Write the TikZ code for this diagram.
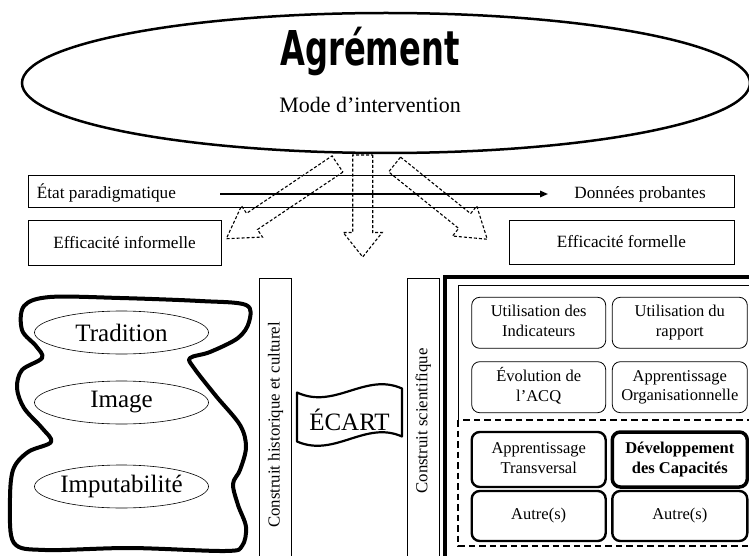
\documentclass[tikz,border=0pt]{standalone}
\usepackage{fontspec}
\setmainfont{Liberation Serif}
\newfontfamily\wordart{DejaVu Sans}
\usetikzlibrary{arrows.meta,shapes.geometric}

% hollow dashed block arrow: start x, start y, angle, length, head length, head half-width, shaft half-width
\newcommand\hollowarrow[7]{%
  \draw[blockarrow, shift={(#1,#2)}, rotate=#3]
    (0,-#7) -- (#4-#5,-#7) -- (#4-#5,-#6) -- (#4,0) -- (#4-#5,#6) -- (#4-#5,#7) -- (0,#7) -- cycle;}

\begin{document}
\begin{tikzpicture}[x=1pt, y=-1pt,
  box/.style={draw, line width=0.8pt, inner sep=0pt},
  lbl/.style={font=\fontsize{17.2}{20}\selectfont, inner sep=0pt},
  vlbl/.style={font=\fontsize{16.8}{20}\selectfont, inner sep=0pt, rotate=90},
  cell/.style={draw, rounded corners=8pt, line width=0.8pt, minimum width=134pt,
    minimum height=51pt, align=center, inner sep=0pt,
    font=\fontsize{16.5}{19.5}\selectfont},
  thickcell/.style={cell, line width=2.4pt},
  blockarrow/.style={draw, line width=1.1pt, dash pattern=on 3pt off 2pt},
  oval/.style={ellipse, draw, line width=0.6pt, minimum width=174pt,
    minimum height=43pt, inner sep=0pt, font=\fontsize{25}{28}\selectfont}
]
\fill[white] (0,0) rectangle (749,556);
\useasboundingbox (0,0) rectangle (749,556);
\clip (0,0) rectangle (749,556);

% ---- upper oval: Agrément / Mode d'intervention
\node[ellipse, draw, line width=2.5pt, minimum width=728pt, minimum height=140pt] (agr) at (386,83) {};
\node[anchor=base, inner sep=0pt, xscale=0.67,
  font=\wordart\bfseries\fontsize{48}{48}\selectfont] (title) at (370,66) {Agrément};
\node[anchor=base, inner sep=0pt, font=\fontsize{22}{26}\selectfont] (mode) at (370,113) {Mode d’intervention};

% ---- paradigm band
\node[box, minimum width=706pt, minimum height=32pt] (band) at (381,191) {};
\node[lbl, anchor=base west] (etat) at (36.7,198) {État paradigmatique};
\node[lbl, anchor=base east] (donnees) at (706,198) {Données probantes};
\coordinate (arrS) at (220,194);
\coordinate (arrE) at (548,194);
\draw[line width=1.5pt, -{Triangle[length=8pt,width=6.5pt]}] (arrS) -- (arrE);

% ---- efficacy boxes
\node[box, minimum width=193pt, minimum height=45pt, lbl] (effinf) at (124.5,242.5) {Efficacité informelle};
\node[box, minimum width=225pt, minimum height=44pt, lbl] (efffor) at (621.5,242) {Efficacité formelle};

% ---- dashed block arrows leaving the oval
\hollowarrow{337.5}{164}{-146.1}{134}{31}{18.8}{9.75}
\hollowarrow{362.7}{155}{-90}{102}{24.5}{19.5}{10}
\hollowarrow{394.6}{164.5}{-38.9}{119}{29}{19.3}{9.5}

% ---- irregular outline around the tradition ovals
\draw[line width=4pt, line join=round] plot[smooth cycle, tension=0.55] coordinates {
  (24,306) (50,297) (120,298) (200,301) (246,305) (249,322) (238,338)
  (210,352) (190,358) (194,368) (216,396) (240,425) (246,447) (240,470)
  (233,484) (238,505) (246,527) (242,546) (225,551) (130,548) (45,550)
  (14,543) (10,505) (13,470) (28,452) (51,442) (42,428) (24,408)
  (17,388) (22,370) (42,358) (36,346) (22,330)};
\node[oval] (trad) at (121.5,332.5) {Tradition};
\node[oval] (img) at (121.5,402.5) {Image};
\node[oval] (imput) at (121.5,486.5) {Imputabilité};

% ---- vertical construct columns
\node[box, minimum width=32.4pt, minimum height=320pt, anchor=north] (hist) at (275.5,278.3) {};
\node[vlbl] (histtxt) at (275.5,425) {Construit historique et culturel};
\node[box, minimum width=32pt, minimum height=320pt, anchor=north] (sci) at (423.3,278.3) {};
\node[vlbl] (scitxt) at (423.3,421) {Construit scientifique};

% ---- ÉCART banner
\draw[line width=2.2pt, line join=round]
  (297,392.5) .. controls (335,410) and (365,372) .. (402,388.5)
  -- (402,436.5) .. controls (365,420) and (335,458) .. (297,441.5) -- cycle;
\node[anchor=base, inner sep=0pt, font=\fontsize{25}{28}\selectfont] (ecart) at (349.5,430) {ÉCART};

% ---- scientific panel
\draw[line width=4pt] (445,277) rectangle (800,600);
\draw[line width=0.8pt] (458.3,420) -- (458.3,285) -- (800,285);
\draw[line width=2.2pt, dash pattern=on 6.5pt off 4pt] (458.3,420) rectangle (800,546);

\node[cell] (uind) at (538.7,322.8) {\strut Utilisation des\\\strut Indicateurs};
\node[cell, minimum width=135pt] (urap) at (679.8,322.8) {\strut Utilisation du\\\strut rapport};
\node[cell] (evol) at (538.7,387.2) {\strut Évolution de\\\strut l’ACQ};
\node[cell, minimum width=135pt] (aorg) at (679.8,387.2) {\strut Apprentissage\\\strut Organisationnelle};
\node[thickcell, minimum height=55pt] (atra) at (538.7,459.5) {\strut Apprentissage\\\strut Transversal};
\node[thickcell, line width=3.5pt, minimum width=135pt, minimum height=55pt,
  font=\fontsize{16.5}{19.5}\selectfont\bfseries] (dcap) at (679.8,459.5) {\strut Développement\\\strut des Capacités};
\node[thickcell, minimum height=50pt] (aut1) at (538.7,516) {Autre(s)};
\node[thickcell, minimum width=135pt, minimum height=50pt] (aut2) at (679.8,516) {Autre(s)};
\end{tikzpicture}
\end{document}
